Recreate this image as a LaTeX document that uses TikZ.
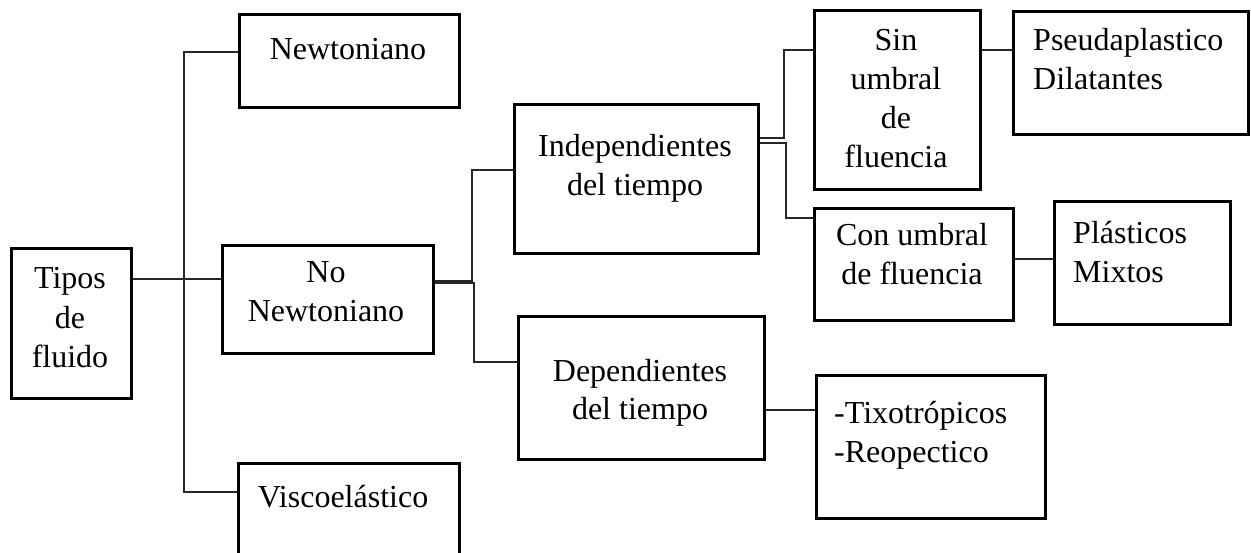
\documentclass[tikz,border=0pt]{standalone}
\usepackage{fontspec}
\setmainfont{Liberation Serif}
\begin{document}
\begin{tikzpicture}[x=1pt,y=-1pt,
  box/.style={draw=black, line width=2.6pt, inner sep=0pt, anchor=north west},
  link/.style={draw=black!85, line width=1.3pt},
  txt/.style={font=\fontsize{32}{39}\selectfont, inner sep=0pt, align=center, anchor=base},
  ltxt/.style={font=\fontsize{32}{39}\selectfont, inner sep=0pt, align=left, anchor=base west}]
\useasboundingbox (0,0) rectangle (1251,553);
\clip (0,0) rectangle (1251,553);
% boxes
\node[box, minimum width=120pt, minimum height=150pt] (tipos) at (10,247) {};
\node[box, minimum width=220pt, minimum height=93pt] (newt) at (238,13) {};
\node[box, minimum width=211pt, minimum height=108pt] (nonewt) at (221,244) {};
\node[box, minimum width=221pt, minimum height=140pt] (visco) at (237,462) {};
\node[box, minimum width=244pt, minimum height=149pt] (indep) at (513,103) {};
\node[box, minimum width=246pt, minimum height=143pt] (dep) at (517,315) {};
\node[box, minimum width=166pt, minimum height=179pt] (sin) at (813,9) {};
\node[box, minimum width=235pt, minimum height=123pt] (pseudo) at (1012,10) {};
\node[box, minimum width=199pt, minimum height=112pt] (con) at (813,207) {};
\node[box, minimum width=176pt, minimum height=123pt] (plast) at (1053,200) {};
\node[box, minimum width=229pt, minimum height=143pt] (tixo) at (815,374) {};
% texts (anchor = baseline of last line)
\node[txt] (ttipos) at (70,367) {Tipos\\de\\fluido};
\node[txt] (tnewt) at (348,60) {Newtoniano};
\node[txt] (tnonewt) at (326,322) {No\\Newtoniano};
\node[txt] (tvisco) at (343,507) {Viscoelástico};
\node[txt] (tindep) at (635,196) {Independientes\\del tiempo};
\node[txt] (tdep) at (640,420) {Dependientes\\del tiempo};
\node[txt] (tsin) at (896,168) {Sin\\umbral\\de\\fluencia};
\node[ltxt] (tpseudo) at (1033,90) {Pseudaplastico\\Dilatantes};
\node[txt] (tcon) at (912,285) {Con umbral\\de fluencia};
\node[ltxt] (tplast) at (1073,283) {Plásticos\\Mixtos};
\node[ltxt] (ttixo) at (834,462) {-Tixotrópicos\\-Reopectico};
% junction coordinates
\coordinate (va) at (184,52);
\coordinate (vb) at (184,492);
\coordinate (vm) at (184,279);
\coordinate (na1) at (472,281);
\coordinate (na2) at (472,170);
\coordinate (nb1) at (474,283);
\coordinate (nb2) at (474,362);
\coordinate (ia1) at (784,138);
\coordinate (ia2) at (784,50);
\coordinate (ib1) at (786,143);
\coordinate (ib2) at (786,218);
\coordinate (cp) at (1030,259);
\coordinate (dt) at (790,410);
% connectors
\draw[link] (tipos.east |- vm) -- (nonewt.west |- vm);
\draw[link] (newt.west |- va) -- (va) -- (vb) -- (visco.west |- vb);
\draw[link] (nonewt.east |- na1) -- (na1) -- (na2) -- (indep.west |- na2);
\draw[link] (nonewt.east |- nb1) -- (nb1) -- (nb2) -- (dep.west |- nb2);
\draw[link] (indep.east |- ia1) -- (ia1) -- (ia2) -- (sin.west |- ia2);
\draw[link] (indep.east |- ib1) -- (ib1) -- (ib2) -- (con.west |- ib2);
\draw[link] (sin.east |- ia2) -- (pseudo.west |- ia2);
\draw[link] (con.east |- cp) -- (plast.west |- cp);
\draw[link] (dep.east |- dt) -- (tixo.west |- dt);
\end{tikzpicture}
\end{document}
